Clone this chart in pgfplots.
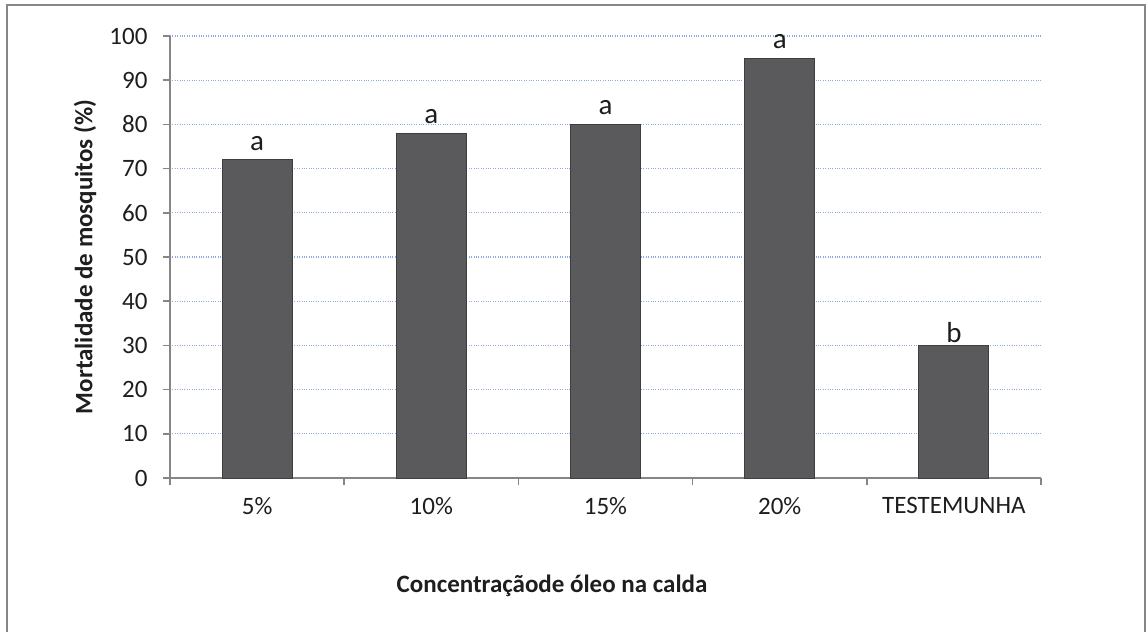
\documentclass[border=0pt]{standalone}
\usepackage{pgfplots}
\pgfplotsset{compat=1.18}
\usepackage{fontspec}
\setmainfont{Carlito}

\definecolor{barfill}{RGB}{90,90,92}
\definecolor{baredge}{RGB}{62,62,64}
\definecolor{gridblue}{RGB}{143,170,220}
\definecolor{axisgray}{RGB}{134,134,134}
\definecolor{txt}{RGB}{30,30,30}

\begin{document}
\begin{tikzpicture}
\useasboundingbox (-170bp,-154bp) rectangle (977bp,478bp);
% chart frame (bottom edge lies below the page)
\draw[axisgray,line width=1.5bp] (-163bp,-170bp) -- (-163bp,473bp) -- (975bp,473bp) -- (975bp,-170bp);
\begin{axis}[
  at={(0,0)}, anchor=origin,
  scale only axis,
  width=871bp, height=442bp,
  xmin=0.5, xmax=5.5,
  ymin=0, ymax=100,
  ytick={0,10,...,100},
  xtick={1,2,3,4,5},
  xticklabels={5\%,10\%,15\%,20\%,TESTEMUNHA},
  minor xtick={0.5,1.5,...,5.5},
  major x tick style={draw=none},
  minor x tick style={axisgray,line width=1.5bp},
  y tick style={axisgray,line width=1.5bp},
  tick align=outside,
  major tick length=7bp,
  minor tick length=7bp,
  axis x line*=bottom,
  axis y line*=left,
  axis line style={axisgray,line width=1.5bp},
  ymajorgrids,
  major grid style={gridblue,dotted,line width=1.2bp},
  /pgf/number format/assume math mode=true,
  tick label style={font=\fontsize{25bp}{30bp}\selectfont, text=txt},
  yticklabel style={xshift=-12bp},
  xticklabel style={yshift=-9bp},
  xlabel={Concentraçãode óleo na calda},
  ylabel={Mortalidade de mosquitos (\%)},
  label style={font=\fontsize{25bp}{30bp}\selectfont\bfseries, text=txt},
  xlabel style={at={(axis description cs:0.4386,-0.2443)}, anchor=center},
  ylabel style={at={(axis description cs:-0.0976,0.5)}, anchor=center, rotate=0},
  ybar, bar width=70bp,
  nodes near coords,
  point meta=explicit symbolic,
  every node near coord/.append style={font=\fontsize{29bp}{34bp}\selectfont, text=txt, inner sep=3bp, yshift=6bp},
]
\addplot[fill=barfill, draw=baredge, line width=1bp] coordinates {
  (1,72) [a]
  (2,78) [a]
  (3,80) [a]
  (4,95) [a]
  (5,30) [{\raisebox{-7bp}[0pt][0pt]{b}}]
};
\end{axis}
\end{tikzpicture}
\end{document}
